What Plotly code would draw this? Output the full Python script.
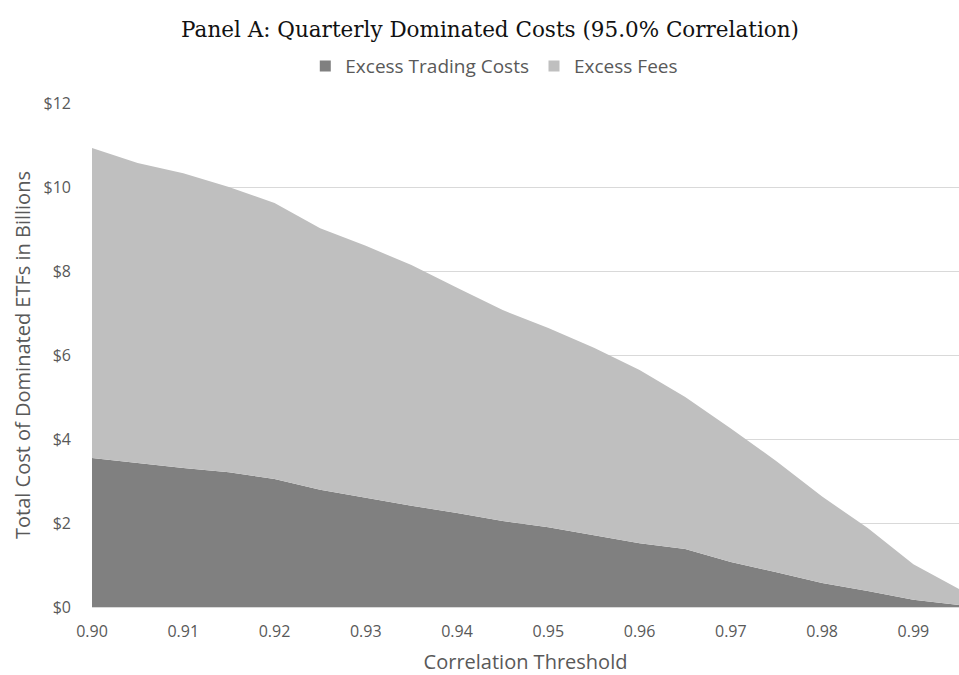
import plotly.graph_objects as go

thresholds = [0.900, 0.905, 0.910, 0.915, 0.920, 0.925, 0.930, 0.935, 0.940, 0.945,
              0.950, 0.955, 0.960, 0.965, 0.970, 0.975, 0.980, 0.985, 0.990, 0.995]
excess_trading = [3.55, 3.43, 3.31, 3.21, 3.05, 2.79, 2.60, 2.41, 2.24, 2.05,
                  1.90, 1.71, 1.52, 1.38, 1.07, 0.83, 0.57, 0.38, 0.17, 0.05]
excess_fees = [7.38, 7.14, 7.02, 6.79, 6.57, 6.23, 6.00, 5.73, 5.36, 5.02,
               4.74, 4.46, 4.12, 3.62, 3.18, 2.64, 2.06, 1.50, 0.85, 0.38]

series_names = ["Excess Trading Costs", "Excess Fees"]
series_colors = ["#808080", "#BFBFBF"]

x_tick_vals = [0.90, 0.91, 0.92, 0.93, 0.94, 0.95, 0.96, 0.97, 0.98, 0.99]
x_tick_text = ["0.90", "0.91", "0.92", "0.93", "0.94", "0.95", "0.96", "0.97", "0.98", "0.99"]
y_tick_vals = [0, 2, 4, 6, 8, 10, 12]
y_tick_text = ["$0", "$2", "$4", "$6", "$8", "$10", "$12"]

FONT = "Open Sans, Lato, sans-serif"
TXT = "#595959"

fig = go.Figure()
for vals, name, col in zip([excess_trading, excess_fees], series_names, series_colors):
    fig.add_trace(go.Scatter(
        x=thresholds, y=vals, name=name, showlegend=False,
        mode="lines", stackgroup="one", line=dict(width=0, color=col),
        fillcolor=col, hoverinfo="x+y+name"))
# legend entries with square swatches
for name, col in zip(series_names, series_colors):
    fig.add_trace(go.Scatter(
        x=[None], y=[None], name=name, mode="markers",
        marker=dict(symbol="square", size=11, color=col), showlegend=True))

fig.update_layout(
    width=959, height=675,
    margin=dict(l=92, r=0, t=103, b=68),
    paper_bgcolor="white", plot_bgcolor="white",
    font=dict(family=FONT, color=TXT, size=16),
    title=dict(text="Panel A: Quarterly Dominated Costs (95.0% Correlation)",
               x=0.511, xanchor="center", y=0.9556, yanchor="middle",
               font=dict(family="DejaVu Serif, Liberation Serif, serif", size=21.5, color="#111111")),
    legend=dict(orientation="h", x=0.464, xanchor="center", y=1.073, yanchor="middle",
                font=dict(family=FONT, size=19, color=TXT), traceorder="normal",
                itemwidth=30, bgcolor="rgba(0,0,0,0)"),
    showlegend=True,
)
fig.update_xaxes(
    range=[0.900, 0.995], tickvals=x_tick_vals, ticktext=x_tick_text,
    showgrid=False, zeroline=False, showline=True, linecolor="#D9D9D9", linewidth=1,
    ticks="", tickfont=dict(size=16, color=TXT), ticklabelstandoff=10, automargin=False,
    title=dict(text="Correlation Threshold", font=dict(size=20, color=TXT), standoff=18),
)
fig.update_yaxes(
    range=[0, 12], tickvals=y_tick_vals, ticktext=y_tick_text,
    showgrid=True, gridcolor="#D9D9D9", gridwidth=1, zeroline=False, showline=False,
    ticks="", tickfont=dict(size=16, color=TXT), ticklabelstandoff=20, automargin=False,
    title=dict(text="Total Cost of Dominated ETFs in Billions", font=dict(size=20, color=TXT), standoff=7),
)

fig.write_html("out.html", config={"displayModeBar": False},
               post_script="document.body.style.margin='0';document.body.style.overflow='hidden';")
